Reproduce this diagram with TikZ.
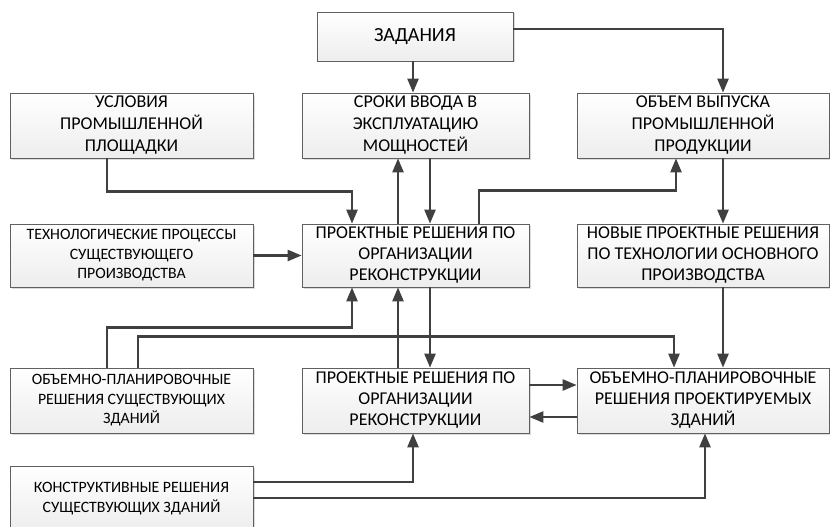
\documentclass[tikz,border=0pt]{standalone}
\usepackage{fontspec}
\setmainfont{Carlito}
\usetikzlibrary{arrows.meta,shadows}
\definecolor{linegray}{HTML}{404040}

\begin{document}
\begin{tikzpicture}[x=1pt,y=-1pt,
    box/.style={rectangle, draw=gray!75!black, line width=0.7pt,
      top color=white, bottom color=gray!14,
      drop shadow={shadow xshift=1.5pt, shadow yshift=-1.5pt, fill=gray!35, opacity=0.8},
      align=center, inner sep=1pt},
    headtxt/.style={font=\fontsize{20}{24}\selectfont},
    bigtxt/.style={font=\fontsize{18}{22}\selectfont},
    midtxt/.style={font=\fontsize{18}{21}\selectfont},
    smalltxt/.style={font=\fontsize{15.8}{19.5}\selectfont},
    arr/.style={draw=linegray, line width=2.4pt, -{Triangle[length=14pt,width=11pt]}}
  ]
  \useasboundingbox (0,0) rectangle (830,527);
  % top row
  \node[box, headtxt, minimum width=196pt, minimum height=49pt] (zad) at (415,36.5) {ЗАДАНИЯ};
  \node[box, bigtxt, minimum width=243pt, minimum height=65pt] (usl) at (131.5,125.5)
    {УСЛОВИЯ\\ПРОМЫШЛЕННОЙ\\ПЛОЩАДКИ};
  \node[box, bigtxt, minimum width=227pt, minimum height=65pt] (srok) at (415.5,125.5)
    {СРОКИ ВВОДА В\\ЭКСПЛУАТАЦИЮ\\МОЩНОСТЕЙ};
  \node[box, bigtxt, minimum width=252pt, minimum height=65pt] (obem) at (703,125.5)
    {ОБЪЕМ ВЫПУСКА\\ПРОМЫШЛЕННОЙ\\ПРОДУКЦИИ};
  % middle row
  \node[box, smalltxt, minimum width=243pt, minimum height=63pt] (tech) at (131.5,255.5)
    {ТЕХНОЛОГИЧЕСКИЕ ПРОЦЕССЫ\\СУЩЕСТВУЮЩЕГО\\ПРОИЗВОДСТВА};
  \node[box, midtxt, minimum width=227pt, minimum height=63pt] (proj) at (415.5,255.5)
    {ПРОЕКТНЫЕ РЕШЕНИЯ ПО\\ОРГАНИЗАЦИИ\\РЕКОНСТРУКЦИИ};
  \node[box, midtxt, minimum width=252pt, minimum height=63pt] (nov) at (703,255.5)
    {НОВЫЕ ПРОЕКТНЫЕ РЕШЕНИЯ\\ПО ТЕХНОЛОГИИ ОСНОВНОГО\\ПРОИЗВОДСТВА};
  % lower row
  \node[box, smalltxt, minimum width=243pt, minimum height=65pt] (opsush) at (131.5,400.5)
    {ОБЪЕМНО-ПЛАНИРОВОЧНЫЕ\\РЕШЕНИЯ СУЩЕСТВУЮЩИХ\\ЗДАНИЙ};
  \node[box, midtxt, minimum width=227pt, minimum height=65pt] (projb) at (415.5,400.5)
    {ПРОЕКТНЫЕ РЕШЕНИЯ ПО\\ОРГАНИЗАЦИИ\\РЕКОНСТРУКЦИИ};
  \node[box, midtxt, minimum width=252pt, minimum height=65pt] (opproj) at (703,400.5)
    {ОБЪЕМНО-ПЛАНИРОВОЧНЫЕ\\РЕШЕНИЯ ПРОЕКТИРУЕМЫХ\\ЗДАНИЙ};
  \node[box, smalltxt, minimum width=243pt, minimum height=65pt] (konstr) at (131.5,498.5)
    {КОНСТРУКТИВНЫЕ РЕШЕНИЯ\\СУЩЕСТВУЮЩИХ ЗДАНИЙ};

  % connectors
  \draw[arr] ([xshift=-2pt]zad.south) -- ([xshift=-2.5pt]srok.north);
  \draw[arr] ([yshift=7.5pt]zad.east) -| ([xshift=20pt]obem.north);
  \draw[arr] ([xshift=-24.5pt]usl.south) -- ++(0,33) -| ([xshift=-63.5pt]proj.north);
  \draw[arr] ([xshift=-17.5pt]proj.north) -- ([xshift=-17.5pt]srok.south);
  \draw[arr] ([xshift=14.5pt]srok.south) -- ([xshift=14.5pt]proj.north);
  \draw[arr] ([xshift=63.5pt]proj.north) -- ++(0,-33) -| ([xshift=-27pt]obem.south);
  \draw[arr] ([xshift=20pt]obem.south) -- ([xshift=20pt]nov.north);
  \draw[arr] (tech.east) -- (proj.west);
  \draw[arr] ([xshift=-24.5pt]opsush.north) -- ++(0,-40) -| ([xshift=-63.5pt]proj.south);
  \draw[arr] ([xshift=6.5pt]opsush.north) -- ++(0,-31) -| ([xshift=-29pt]opproj.north);
  \draw[arr] ([xshift=-17.5pt]projb.north) -- ([xshift=-17.5pt]proj.south);
  \draw[arr] ([xshift=14.5pt]proj.south) -- ([xshift=14.5pt]projb.north);
  \draw[arr] ([xshift=20pt]nov.south) -- ([xshift=20pt]opproj.north);
  \draw[arr] ([yshift=15.5pt]projb.east) -- ([yshift=15.5pt]opproj.west);
  \draw[arr] ([yshift=-16.5pt]opproj.west) -- ([yshift=-16.5pt]projb.east);
  \draw[arr] ([yshift=16.5pt]konstr.east) -| ([xshift=-2.5pt]projb.south);
  \draw[arr] ([yshift=0.5pt]konstr.east) -| ([xshift=2pt]opproj.south);
\end{tikzpicture}
\end{document}
